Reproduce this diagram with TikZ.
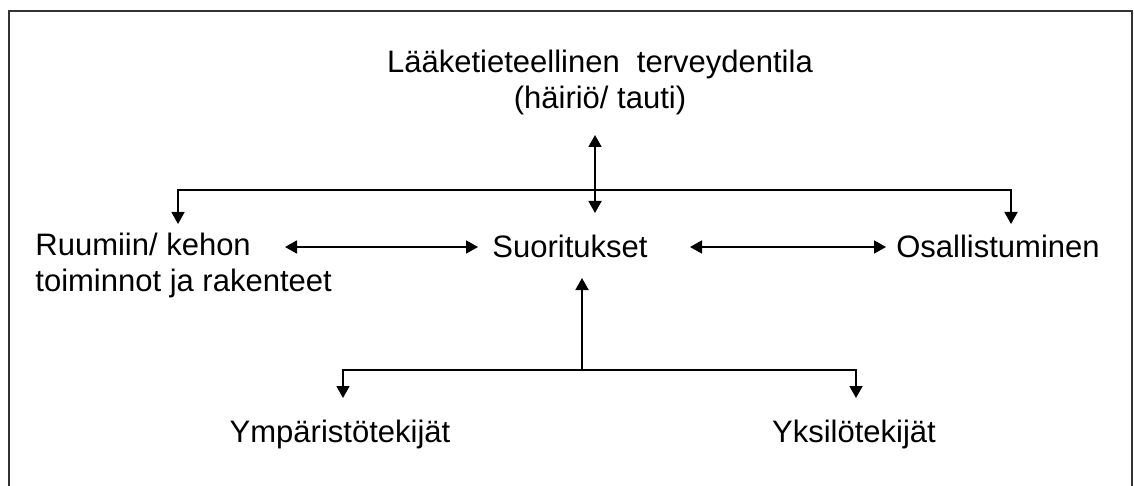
\documentclass[tikz,border=0pt]{standalone}
\usepackage{fontspec}
\setmainfont{Liberation Sans}
\usepackage{tikz}
\usetikzlibrary{arrows.meta}
\usetikzlibrary{positioning}

\tikzset{
    label/.style={inner sep=0pt, font=\fontsize{15.5}{18}\selectfont},
    link/.style={line width=0.9pt, -{Triangle[length=6pt,width=6.5pt]}},
    twoway/.style={line width=0.9pt, {Triangle[length=6pt,width=6.5pt]}-{Triangle[length=6pt,width=6.5pt]}},
}

\begin{document}
\begin{tikzpicture}[x=0.5pt,y=-0.5pt]
        \useasboundingbox (0,0) rectangle (1134,486);
        \draw[line width=1pt, black!80] (9,486) -- (9,11) -- (1132,11) -- (1132,486);

        % multi-line nodes sit on the baseline of their last line
        \node[label, align=center, anchor=base] (cond) at (600,109)
            {Lääketieteellinen\ \ terveydentila\\(häiriö/ tauti)};
        \node[label, align=left, anchor=base west] (body) at (35,292)
            {Ruumiin/ kehon\\toiminnot ja rakenteet};
        \node[label, anchor=base] (act) at (570,257) {Suoritukset};
        \node[label, anchor=base] (part) at (998,257) {Osallistuminen};
        \node[label, anchor=base] (env) at (340,442) {Ympäristötekijät};
        \node[label, anchor=base] (pers) at (854,442) {Yksilötekijät};

        % junctions and arrow ends
        \coordinate (c1) at (595,135);
        \coordinate (c2) at (595,213);
        \coordinate (hub) at (595,190);
        \coordinate (bl) at (178,224);
        \coordinate (br) at (1011,224);
        \coordinate (a1) at (285,247);
        \coordinate (a2) at (478,247);
        \coordinate (a3) at (690,247);
        \coordinate (a4) at (886,247);
        \coordinate (up) at (582,278);
        \coordinate (low) at (582,370);
        \coordinate (el) at (343,398);
        \coordinate (er) at (856,398);

        \draw[twoway] (c1) -- (c2);
        \draw[link] (hub) -| (bl);
        \draw[link] (hub) -| (br);
        \draw[twoway] (a1) -- (a2);
        \draw[twoway] (a3) -- (a4);
        \draw[link] (low) -- (up);
        \draw[link] (low) -| (el);
        \draw[link] (low) -| (er);
    \end{tikzpicture}
\end{document}
